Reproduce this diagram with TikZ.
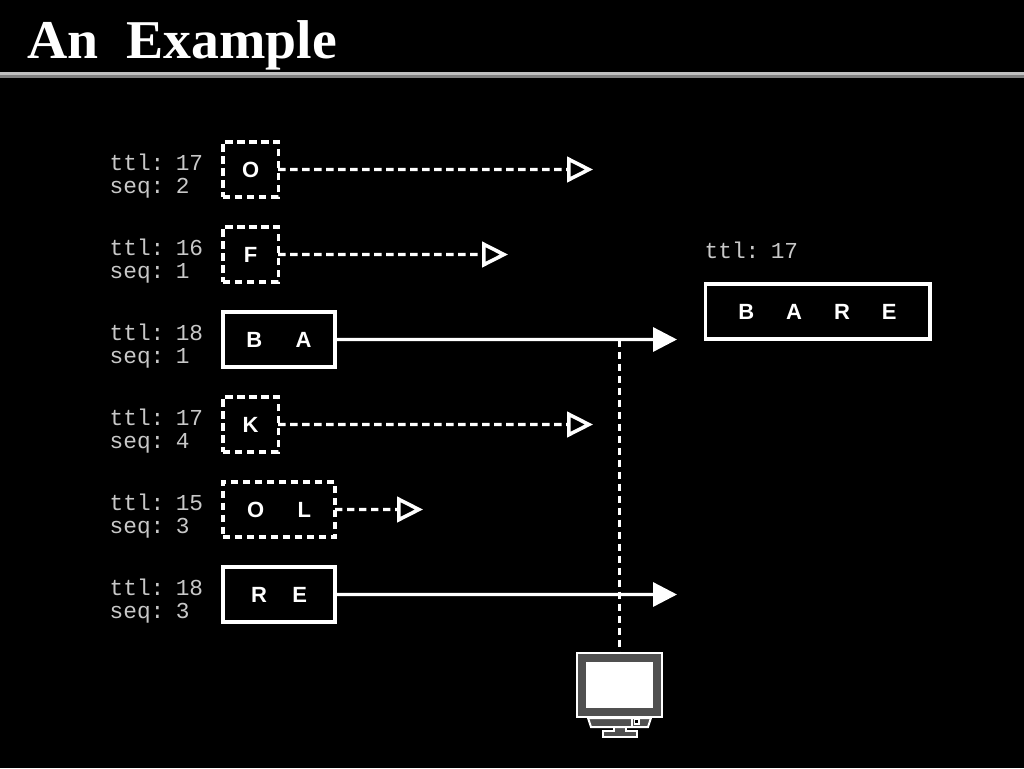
\documentclass[tikz,border=0pt]{standalone}
\usepackage{fontspec}
\setmainfont{Liberation Serif}
\setsansfont{Liberation Sans}
\setmonofont{Liberation Mono}
\newfontfamily\titlefont[FakeStretch=1.02]{Liberation Serif}
\usepackage{xcolor}
\usetikzlibrary{arrows.meta,calc,positioning}
\definecolor{ruletop}{HTML}{C0C0C0}
\definecolor{rulebot}{HTML}{808080}
\definecolor{hostgray}{HTML}{505050}
\definecolor{inkgray}{HTML}{C8C8C8}
\tikzset{
  node distance=63.75pt,
  hdr/.style={font=\ttfamily\fontsize{17.1}{17.25}\selectfont,text=inkgray,align=left,
              text width=71pt,inner sep=0pt,outer sep=0pt},
  pkt/.style={draw=white,line width=2.5pt,font=\sffamily\bfseries\fontsize{16.5}{18}\selectfont,
              text=white,minimum height=41.4pt,minimum width=41.4pt,inner sep=0pt,outer sep=0pt},
  wide/.style={minimum width=84pt},
  lost/.style={dash pattern=on 5.5pt off 3.5pt},
  onrow/.style={right=14pt of #1,yshift=4.8pt},
  standpart/.style={draw=white,line width=1.5pt,fill=hostgray}
}

\begin{document}
\begin{tikzpicture}[x=.75pt,y=-.75pt]
          \useasboundingbox (0,0) rectangle (1024,768);
          \fill[black] (0,0) rectangle (1024,768);
          \fill[ruletop] (0,72) rectangle (1024,75);
          \fill[rulebot] (0,75) rectangle (1024,78);
          \node (title) [anchor=base west,inner sep=0pt,text=white,
                          font=\titlefont\bfseries\fontsize{41}{44}\selectfont] at (27,58) {An\hspace{.25em} Example};

          \begin{scope}
              \node[hdr] (h1) at (157,175.9) {ttl: 17\\seq: 2};
              \node[hdr] (h2) [below of=h1] {ttl: 16\\seq: 1};
              \node[hdr] (h3) [below of=h2] {ttl: 18\\seq: 1};
              \node[hdr] (h4) [below of=h3] {ttl: 17\\seq: 4};
              \node[hdr] (h5) [below of=h4] {ttl: 15\\seq: 3};
              \node[hdr] (h6) [below of=h5] {ttl: 18\\seq: 3};

              \node[pkt,lost] (o) [onrow=h1] {O};
              \node[pkt,lost] (f) [onrow=h2] {F};
              \node[pkt,wide] (ba) [onrow=h3] {B\hspace{25pt}A};
              \node[pkt,lost] (k) [onrow=h4] {K};
              \node[pkt,wide,lost] (ol) [onrow=h5] {O\hspace{25pt}L};
              \node[pkt,wide] (re) [onrow=h6] {R\hspace{19pt}E};

              \node[hdr] (hout) at (752,250) {ttl: 17};
              \node[pkt,minimum width=168.5pt] (bare) at (817.5,311.5) {B\hspace{24pt}A\hspace{24pt}R\hspace{24pt}E};

              \node[fill=hostgray,draw=white,line width=1.8pt,minimum width=64pt,minimum height=48pt,
                    inner sep=0pt,outer sep=0pt] (host) at (619.5,685) {};
              \node[fill=white,minimum width=50pt,minimum height=34.5pt,inner sep=0pt] (screen) at (host) {};

              \coordinate (oend) at (593,169.5);
              \coordinate (fend) at (508,254.5);
              \coordinate (baend) at (677,339.5);
              \coordinate (kend) at (593,424.5);
              \coordinate (olend) at (423,509.5);
              \coordinate (reend) at (677,594.5);
              \coordinate (tap) at (host |- ba);
          \end{scope}

          % stand of the monitor
          \draw[standpart] (614,727) -- (614,731) -- (602.5,731) -- (602.5,737)
              -- (637,737) -- (637,731) -- (626,731) -- (626,727);
          \draw[standpart] (588,718) -- (651,718) -- (648,727) -- (591,727) -- cycle;
          \draw[white,line width=1.5pt] (632,718) -- (632,727);
          \draw[white,line width=.8pt,fill=black] (634.5,719.5) rectangle (639,724);

          \begin{scope}[line width=2.5pt,
                        every edge/.style={draw=white}]
              \path [-{Triangle[length=18pt,width=18pt,fill=white]}] (ba) edge (baend);
              \path [-{Triangle[length=18pt,width=18pt,fill=white]}] (re) edge (reend);
          \end{scope}

          \begin{scope}[line width=2.5pt,lost,
                        every edge/.style={draw=white}]
              \path [-{Triangle[open,length=19.5pt,width=19pt,fill=black,line width=2.7pt]}] (o) edge (oend);
              \path [-{Triangle[open,length=19.5pt,width=19pt,fill=black,line width=2.7pt]}] (f) edge (fend);
              \path [-{Triangle[open,length=19.5pt,width=19pt,fill=black,line width=2.7pt]}] (k) edge (kend);
              \path [-{Triangle[open,length=19.5pt,width=19pt,fill=black,line width=2.7pt]}] (ol) edge (olend);
              \path (tap) edge (host);
          \end{scope}
\end{tikzpicture}
\end{document}
